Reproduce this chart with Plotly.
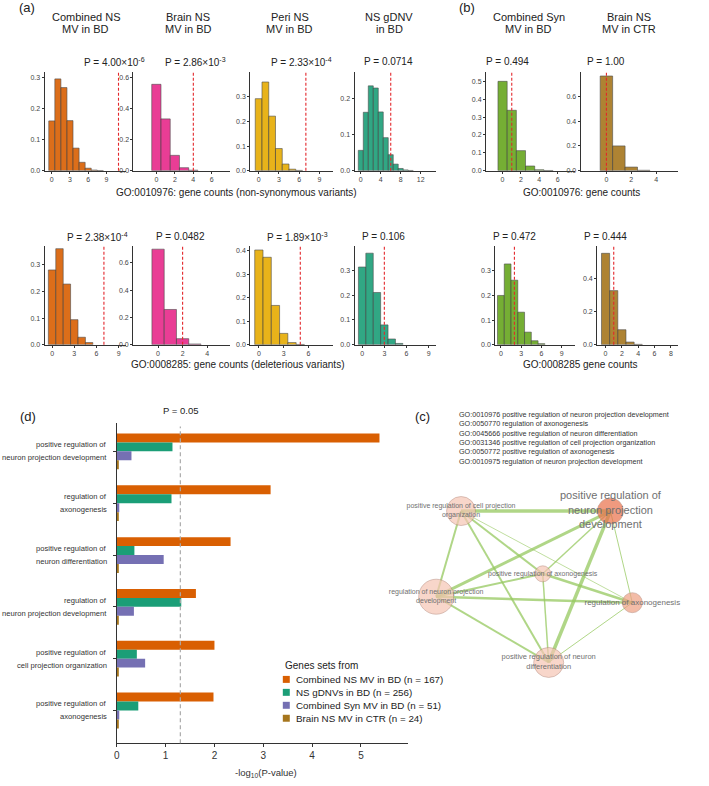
import plotly.graph_objects as go
import math

# ---------------- DATA ----------------
hist_titles = [("Combined NS", "MV in BD"), ("Brain NS", "MV in BD"), ("Peri NS", "MV in BD"),
               ("NS gDNV", "in BD"), ("Combined Syn", "MV in BD"), ("Brain NS", "MV in CTR")]
hist_colors = ["#d95f02", "#e7298a", "#e6ab02", "#1b9e77", "#66a61e", "#a6761d"]

# row 1: GO:0010976 (density of gene counts per integer count, starting at 0)
r1_dens = [
    [0.161, 0.297, 0.269, 0.162, 0.073, 0.027, 0.008, 0.002, 0.0005],
    [0.559, 0.335, 0.099, 0.019, 0.003],
    [0.293, 0.361, 0.222, 0.090, 0.027, 0.006, 0.001],
    [0.056, 0.161, 0.234, 0.228, 0.162, 0.091, 0.044, 0.018, 0.006, 0.002, 0.0005],
    [0.500, 0.338, 0.112, 0.026, 0.005, 0.001],
    [0.766, 0.200, 0.029, 0.003],
]
r1_observed = [11, 4, 7, 6, 1, 0]
r1_pvals = ["P = 4.00×10<sup>-6</sup>", "P = 2.86×10<sup>-3</sup>", "P = 2.33×10<sup>-4</sup>",
            "P = 0.0714", "P = 0.494", "P = 1.00"]
r1_xticks = [[0, 3, 6, 9], [0, 2, 4, 6], [0, 3, 6, 9], [0, 4, 8, 12], [0, 2, 4, 6], [0, 2, 4]]
r1_yticks = [[0, 0.1, 0.2, 0.3], [0, 0.2, 0.4, 0.6], [0, 0.1, 0.2, 0.3], [0, 0.1, 0.2],
             [0, 0.1, 0.2, 0.3, 0.4, 0.5], [0, 0.2, 0.4, 0.6]]

# row 2: GO:0008285
r2_dens = [
    [0.281, 0.361, 0.228, 0.094, 0.028, 0.008],
    [0.700, 0.258, 0.044, 0.005],
    [0.403, 0.372, 0.167, 0.048, 0.009, 0.001],
    [0.314, 0.370, 0.211, 0.080, 0.023, 0.005],
    [0.200, 0.328, 0.262, 0.132, 0.051, 0.016, 0.004],
    [0.556, 0.329, 0.091, 0.016, 0.002],
]
r2_observed = [7, 2, 5, 3, 2, 1]
r2_pvals = ["P = 2.38×10<sup>-4</sup>", "P = 0.0482", "P = 1.89×10<sup>-3</sup>",
            "P = 0.106", "P = 0.472", "P = 0.444"]
r2_xticks = [[0, 3, 6, 9], [0, 2, 4], [0, 3, 6], [0, 3, 6, 9], [0, 3, 6, 9], [0, 2, 4, 6, 8]]
r2_yticks = [[0, 0.1, 0.2, 0.3], [0, 0.2, 0.4, 0.6], [0, 0.1, 0.2, 0.3, 0.4], [0, 0.1, 0.2, 0.3],
             [0, 0.1, 0.2, 0.3], [0, 0.2, 0.4]]

captions = ["GO:0010976: gene counts (non-synonymous variants)", "GO:0010976: gene counts",
            "GO:0008285: gene counts (deleterious variants)", "GO:0008285 gene counts"]

# panel (d)
go_terms = ["positive regulation of<br>neuron projection development",
            "regulation of<br>axonogenesis",
            "positive regulation of<br>neuron differentiation",
            "regulation of<br>neuron projection development",
            "positive regulation of<br>cell projection organization",
            "positive regulation of<br>axonogenesis"]
bar_series = ["Combined NS MV in BD (n = 167)", "NS gDNVs in BD (n = 256)",
              "Combined Syn MV in BD (n = 51)", "Brain NS MV in CTR (n = 24)"]
bar_colors = ["#d95f02", "#1b9e77", "#7570b3", "#a6761d"]
neglogp_combined_ns = [5.38, 3.15, 2.33, 1.62, 2.00, 1.98]
neglogp_gdnv = [1.14, 1.12, 0.36, 1.32, 0.41, 0.44]
neglogp_combined_syn = [0.30, 0.05, 0.96, 0.35, 0.58, 0.05]
neglogp_brain_ctr = [0.04, 0.04, 0.04, 0.04, 0.04, 0.04]
bar_values = [neglogp_combined_ns, neglogp_gdnv, neglogp_combined_syn, neglogp_brain_ctr]
p_threshold = 0.05
bar_xticks = [0, 1, 2, 3, 4, 5]

# panel (c) network
go_list = ["GO:0010976 positive regulation of neuron projection development",
           "GO:0050770 regulation of axonogenesis",
           "GO:0045666 positive regulation of neuron differentiation",
           "GO:0031346 positive regulation of cell projection organization",
           "GO:0050772 positive regulation of axonogenesis",
           "GO:0010975 regulation of neuron projection development"]
net_labels = ["positive regulation of<br>neuron projection<br>development",
              "positive regulation of cell projection<br>organization",
              "positive regulation of axonogenesis",
              "regulation of neuron projection<br>development",
              "regulation of axonogenesis",
              "positive regulation of neuron<br>differentiation"]
net_x = [610, 460, 542, 435, 632, 548]
net_y = [513, 513, 576, 599, 605, 665]
net_size = [26, 29, 16, 35, 20, 30]
net_color = ["#ea7049", "#f6c5b4", "#f6c5b4", "#f6c5b4", "#eea083", "#f6c5b4"]
net_label_size = [11, 7, 7, 7, 8, 7.5]
net_edges = [(1, 0, 3.5), (1, 3, 2), (1, 5, 2), (1, 2, 2), (1, 4, 0.8), (0, 3, 3), (0, 2, 1.5),
             (0, 5, 3.5), (0, 4, 1), (2, 3, 2), (2, 4, 2.5), (2, 5, 1.5), (3, 4, 2.5), (3, 5, 2), (4, 5, 1)]

# ---------------- LAYOUT GEOMETRY (pixels) ----------------
W, H = 709, 786
FONT = "Liberation Sans, Arial, Helvetica, sans-serif"


def fx(px):
    return px / W


def fy(py):
    return 1 - py / H


def axname(idx):
    s = "" if idx == 1 else str(idx)
    return "x" + s, "y" + s, "xaxis" + s, "yaxis" + s


r1_xdom = [(41.7, 123.3), (131, 227.7), (248.3, 331), (353, 435), (485, 574), (580, 678.3)]
r2_xdom = [(41.7, 123.3), (130.7, 227.7), (248.3, 331), (353, 435), (494.3, 574), (596.7, 678.3)]
r1_ydom = (72.7, 171.3)
r2_ydom = (246.7, 346)
r1_xrange = [(-1.2, 12.2), (-2.48, 7.94), (-1.24, 10.96), (-1.26, 15.1), (-1.81, 7.84), (-2.08, 5.79)]
r2_xrange = [(-1.02, 9.95), (-2.03, 5.84), (-1.04, 8.9), (-1.03, 10.0), (-0.84, 10.9), (-1.03, 8.93)]
r1_ytop = [0.318, 0.636, 0.40, 0.271, 0.55, 0.795]
r2_ytop = [0.372, 0.725, 0.421, 0.40, 0.402, 0.602]
r1_title_cx = [83, 186, 288, 388, 528, 629]
r1_p_cx = [112, 193, 299.5, 387.5, 507, 605.5]
r2_p_cx = [94.5, 178.7, 295.3, 382.2, 513.3, 605]

fig = go.Figure()
layout = dict(width=W, height=H, margin=dict(l=0, r=0, t=0, b=0),
              paper_bgcolor="white", plot_bgcolor="white", showlegend=False,
              barmode="group", bargap=0.31, bargroupgap=0,
              font=dict(family=FONT, color="#222"))
annotations = []
shapes = []

axis_common = dict(showline=True, linecolor="#333", linewidth=1, ticks="outside", ticklen=2,
                   tickwidth=1, tickcolor="#333", showgrid=False, zeroline=False,
                   tickfont=dict(size=7, color="#444", family=FONT), fixedrange=True)


def add_hist(idx, dens, color, xdom, ydom, xr, ytop, xticks, yticks, observed):
    xa, ya, xk, yk = axname(idx)
    fig.add_trace(go.Bar(x=list(range(len(dens))), y=dens, width=1,
                         marker=dict(color=color, opacity=0.9, line=dict(color="#3a3a3a", width=0.6)),
                         xaxis=xa, yaxis=ya, hoverinfo="x+y"))
    layout[xk] = dict(axis_common, domain=[fx(xdom[0]), fx(xdom[1])], range=list(xr),
                      tickvals=xticks, anchor=ya)
    layout[yk] = dict(axis_common, domain=[fy(ydom[1]), fy(ydom[0])], range=[0, ytop],
                      tickvals=yticks, tickformat=".1f", anchor=xa)
    shapes.append(dict(type="line", xref=xa, yref=ya + " domain", x0=observed, x1=observed, y0=0, y1=1,
                       line=dict(color="#e3262b", width=1.1, dash="3px,2px")))


for i in range(6):
    add_hist(i + 1, r1_dens[i], hist_colors[i], r1_xdom[i], r1_ydom, r1_xrange[i], r1_ytop[i],
             r1_xticks[i], r1_yticks[i], r1_observed[i])
    add_hist(i + 7, r2_dens[i], hist_colors[i], r2_xdom[i], r2_ydom, r2_xrange[i], r2_ytop[i],
             r2_xticks[i], r2_yticks[i], r2_observed[i])


def ann(text, px, py, size, xanchor="center", color="#222", **kw):
    annotations.append(dict(text=text, x=fx(px), y=fy(py), xref="paper", yref="paper",
                            xanchor=xanchor, yanchor="middle", showarrow=False,
                            font=dict(size=size, color=color, family=FONT), **kw))


for i in range(6):
    ann(hist_titles[i][0], r1_title_cx[i], 17, 11)
    ann(hist_titles[i][1], r1_title_cx[i], 29.5, 11)
    ann(r1_pvals[i], r1_p_cx[i], 62, 10)
    ann(r2_pvals[i], r2_p_cx[i], 237.5, 10)

ann(captions[0], 234, 193, 10)
ann(captions[1], 581, 193, 10)
ann(captions[2], 235, 366, 10)
ann(captions[3], 580, 366, 10)

ann("(a)", 24.5, 8, 13)
ann("(b)", 465.5, 8, 13)
ann("(d)", 25, 418, 13)
ann("(c)", 421, 418, 13)

# ---------------- panel (d) ----------------
d_xdom = (114.3, 407)
d_ydom = (425, 746)
for name, vals, col in zip(bar_series, bar_values, bar_colors):
    fig.add_trace(go.Bar(y=list(range(len(go_terms))), x=vals, orientation="h", name=name,
                         marker=dict(color=col, line=dict(width=0)), xaxis="x13", yaxis="y13"))
layout["xaxis13"] = dict(axis_common, domain=[fx(d_xdom[0]), fx(d_xdom[1])], range=[0, 5.97],
                         tickvals=bar_xticks, ticklen=3, anchor="y13",
                         tickfont=dict(size=10, color="#333", family=FONT))
layout["yaxis13"] = dict(axis_common, domain=[fy(d_ydom[1]), fy(d_ydom[0])], range=[5.63, -0.54],
                         tickvals=list(range(len(go_terms))), showticklabels=False, ticklen=3,
                         anchor="x13")
shapes.append(dict(type="line", xref="x13", yref="y13 domain", x0=-math.log10(p_threshold),
                   x1=-math.log10(p_threshold), y0=0, y1=0.99,
                   line=dict(color="#aaaaaa", width=1.2, dash="4px,3px")))
annotations.append(dict(text="P = 0.05", x=-math.log10(p_threshold), xref="x13", y=fy(412), yref="paper",
                        showarrow=False, xanchor="center", yanchor="middle",
                        font=dict(size=9.5, color="#222", family=FONT)))
for i, term in enumerate(go_terms):
    l1, l2 = term.split("<br>")
    for line, shift in ((l1, 6.5), (l2, -6.5)):
        annotations.append(dict(text=line, x=fx(106.5), xref="paper", y=i, yref="y13", yshift=shift,
                                showarrow=False, xanchor="right", yanchor="middle",
                                font=dict(size=7.6, color="#333", family=FONT)))
ann("-log<sub>10</sub>(P-value)", 264, 776, 9.5, color="#333")

# manual legend
ann("Genes sets from", 281, 668, 10, xanchor="left", color="#222")
for k, (name, col) in enumerate(zip(bar_series, bar_colors)):
    yc = 682 + 13 * k
    shapes.append(dict(type="rect", xref="paper", yref="paper", x0=fx(281), x1=fx(288),
                       y0=fy(yc + 3.5), y1=fy(yc - 3.5), fillcolor=col, line=dict(width=0)))
    ann(name, 292, yc, 9.8, xanchor="left", color="#222")

# ---------------- panel (c) network ----------------
c_x0, c_x1, c_y0, c_y1 = 380, 709, 470, 700
for a, b, w in net_edges:
    fig.add_trace(go.Scatter(x=[net_x[a], net_x[b]], y=[net_y[a], net_y[b]], mode="lines",
                             line=dict(color="rgba(150,200,95,0.75)", width=w),
                             xaxis="x14", yaxis="y14", hoverinfo="skip"))
fig.add_trace(go.Scatter(x=net_x, y=net_y, mode="markers",
                         marker=dict(size=net_size, color=net_color, line=dict(color="#a9786a", width=0.6)),
                         xaxis="x14", yaxis="y14", hoverinfo="skip"))
fig.add_trace(go.Scatter(x=net_x, y=net_y, mode="text", text=net_labels, textposition="middle center",
                         textfont=dict(size=net_label_size, color="#707070", family=FONT),
                         cliponaxis=False, xaxis="x14", yaxis="y14", hoverinfo="skip"))
layout["xaxis14"] = dict(domain=[fx(c_x0), fx(c_x1)], range=[c_x0, c_x1], visible=False, anchor="y14",
                         fixedrange=True)
layout["yaxis14"] = dict(domain=[fy(c_y1), fy(c_y0)], range=[c_y1, c_y0], visible=False, anchor="x14",
                         fixedrange=True)
annotations.append(dict(text="<br>".join(go_list), x=fx(456), y=fy(410), xref="paper", yref="paper",
                        xanchor="left", yanchor="top", align="left", showarrow=False,
                        font=dict(size=7.2, color="#333", family=FONT)))

layout["annotations"] = annotations
layout["shapes"] = shapes
fig.update_layout(**layout)
fig.write_html("out.html", config={"displayModeBar": False},
               post_script="document.body.style.margin='0px';")
